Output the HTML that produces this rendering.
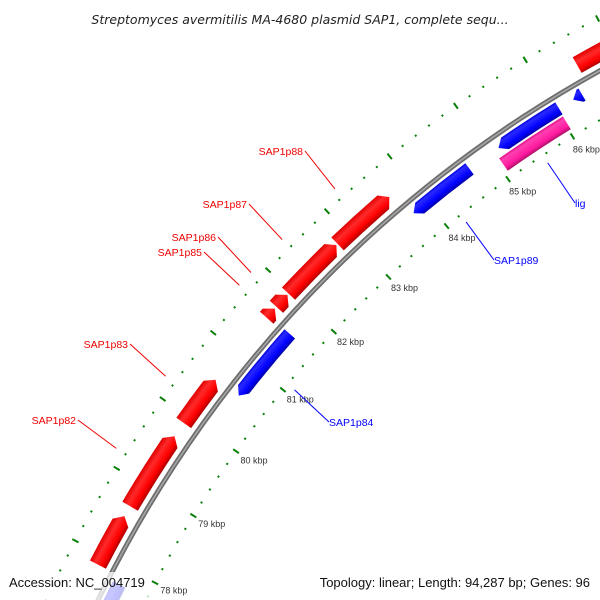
<!DOCTYPE html>
<html><head><meta charset="utf-8"><style>
html,body{margin:0;padding:0;background:#fff;width:600px;height:600px;overflow:hidden;}
svg{display:block;font-family:"Liberation Sans",sans-serif;overflow:hidden;}
</style></head><body>
<svg id="chart" width="600" height="600" viewBox="0 0 600 600" xmlns="http://www.w3.org/2000/svg">
<defs>
<radialGradient id="gRed" gradientUnits="userSpaceOnUse" cx="1181" cy="1124" r="1300">
<stop offset="0.9308" stop-color="#b00000"/><stop offset="0.9345" stop-color="#ff0000"/><stop offset="0.9400" stop-color="#ff2a2a"/><stop offset="0.9446" stop-color="#e00000"/></radialGradient>
<radialGradient id="gBlue" gradientUnits="userSpaceOnUse" cx="1181" cy="1124" r="1300">
<stop offset="0.9108" stop-color="#0000a8"/><stop offset="0.9140" stop-color="#0000ff"/><stop offset="0.9195" stop-color="#2a2aff"/><stop offset="0.9215" stop-color="#0000e0"/></radialGradient>
<radialGradient id="gPink" gradientUnits="userSpaceOnUse" cx="1181" cy="1124" r="1300">
<stop offset="0.8977" stop-color="#b0106a"/><stop offset="0.9010" stop-color="#ff1aa0"/><stop offset="0.9070" stop-color="#ff40b0"/><stop offset="0.9092" stop-color="#e0108a"/></radialGradient>
</defs>
<g id="ticks"></g>
<circle cx="1181" cy="1124" r="1203" fill="none" stroke="#6e6e6e" stroke-width="5"/>
<circle cx="1181" cy="1124" r="1203" fill="none" stroke="#a8a8a8" stroke-width="1.5"/>
<g id="genes"></g>
<g id="labels"></g>
<text x="300" y="24" text-anchor="middle" font-size="12.5" font-style="italic" fill="#222" style="font-family:'DejaVu Sans',sans-serif">Streptomyces avermitilis MA-4680 plasmid SAP1, complete sequ...</text>
<rect x="4" y="572" width="146" height="28" fill="#fff" opacity="0.75"/>
<text x="9" y="587" font-size="13" fill="#111">Accession: NC_004719</text>
<text x="590" y="587" text-anchor="end" font-size="13" fill="#111">Topology: linear; Length: 94,287 bp; Genes: 96</text>
</svg>
<script>
const seqLength = 94287;
const tickStartKbp = 76;
const tickEndKbp = 88;
const labeledKbp = [78, 79, 80, 81, 82, 83, 84, 85, 86];
const fwdStarts = [77.87, 78.69, 79.91, 81.56, 81.74, 81.96, 82.82, 86.51];
const fwdEnds   = [78.55, 79.71, 80.57, 81.71, 81.94, 82.80, 83.68, 87.60];
const fwdNames  = ['', 'SAP1p82', 'SAP1p83', 'SAP1p85', 'SAP1p86', 'SAP1p87', 'SAP1p88', ''];
const revStarts = [76.80, 80.59, 83.78, 85.13, 86.25];
const revEnds   = [77.77, 81.60, 84.68, 86.04, 86.38];
const revNames  = ['', 'SAP1p84', 'SAP1p89', '', ''];
const otherStarts = [85.06];
const otherEnds   = [86.03];
const otherNames  = ['lig'];

const NS = 'http://www.w3.org/2000/svg';
const CX = 1181, CY = 1124;
const labelLayout = {
  'SAP1p82': [76, 424, 'end'], 'SAP1p83': [128, 348, 'end'], 'SAP1p85': [202, 256, 'end'],
  'SAP1p86': [216, 241, 'end'], 'SAP1p87': [247, 208, 'end'], 'SAP1p88': [303, 155, 'end'],
  'SAP1p84': [329, 426, 'start'], 'SAP1p89': [494, 264, 'start'], 'lig': [575, 207, 'start']
};
function ang(k) { return k * 1000 / seqLength * 2 * Math.PI; }
function pt(k, r) { const a = ang(k); return [CX + r * Math.sin(a), CY - r * Math.cos(a)]; }
function P(p) { return p[0].toFixed(2) + ' ' + p[1].toFixed(2); }
function headK(r) { return (8 / r) / (2 * Math.PI) * seqLength / 1000; }

const tg = document.getElementById('ticks');
for (let i = Math.round(tickStartKbp * 5); i <= Math.round(tickEndKbp * 5); i++) {
  const k = i / 5;
  const major = (i % 5 === 0);
  [1160, 1250].forEach(r => {
    const h = major ? 3.5 : 1;
    const a = pt(k, r - h), b = pt(k, r + h);
    const ln = document.createElementNS(NS, 'line');
    
    
    ln.setAttribute('x1', a[0]); ln.setAttribute('y1', a[1]);
    ln.setAttribute('x2', b[0]); ln.setAttribute('y2', b[1]);
    ln.setAttribute('stroke', '#0a800a'); ln.setAttribute('stroke-width', '2');
    tg.appendChild(ln);
  });
}
labeledKbp.forEach(k => {
  const p = pt(k, 1146);
  const t = document.createElementNS(NS, 'text');
  
  
  t.setAttribute('x', p[0] - 7); t.setAttribute('y', p[1] + 4);
  t.setAttribute('font-size', '9'); t.setAttribute('fill', '#333');
  t.textContent = k + ' kbp';
  tg.appendChild(t);
});

const gg = document.getElementById('genes');
const lg = document.getElementById('labels');
function addGene(s, e, r1, r2, dir, fill, name, lineR, color) {
  const rm = (r1 + r2) / 2, hk = headK(rm);
  let d;
  if (dir > 0) {
    const be = Math.max(s, e - hk);
    d = 'M' + P(pt(s, r2)) + ' A' + r2 + ' ' + r2 + ' 0 0 1 ' + P(pt(be, r2)) + ' L' + P(pt(e, rm)) +
        ' L' + P(pt(be, r1)) + ' A' + r1 + ' ' + r1 + ' 0 0 0 ' + P(pt(s, r1)) + ' Z';
  } else if (dir < 0) {
    const bs = Math.min(e, s + hk);
    d = 'M' + P(pt(s, rm)) + ' L' + P(pt(bs, r2)) + ' A' + r2 + ' ' + r2 + ' 0 0 1 ' + P(pt(e, r2)) +
        ' L' + P(pt(e, r1)) + ' A' + r1 + ' ' + r1 + ' 0 0 0 ' + P(pt(bs, r1)) + ' Z';
  } else {
    d = 'M' + P(pt(s, r2)) + ' A' + r2 + ' ' + r2 + ' 0 0 1 ' + P(pt(e, r2)) +
        ' L' + P(pt(e, r1)) + ' A' + r1 + ' ' + r1 + ' 0 0 0 ' + P(pt(s, r1)) + ' Z';
  }
  const path = document.createElementNS(NS, 'path');
  
  
  path.setAttribute('d', d); path.setAttribute('fill', fill);
  gg.appendChild(path);
  if (name && labelLayout[name]) {
    const L = labelLayout[name];
    const m = pt((s + e) / 2, lineR);
    const ln = document.createElementNS(NS, 'line');
    
    
    ln.setAttribute('x1', m[0]); ln.setAttribute('y1', m[1]);
    ln.setAttribute('x2', L[2] === 'end' ? L[0] + 2 : L[0]); ln.setAttribute('y2', L[1] - 4);
    ln.setAttribute('stroke', color); ln.setAttribute('stroke-width', '1');
    lg.appendChild(ln);
    const t = document.createElementNS(NS, 'text');
    
    
    t.setAttribute('x', L[0]); t.setAttribute('y', L[1]);
    t.setAttribute('text-anchor', L[2]);
    t.setAttribute('font-size', '10.5'); t.setAttribute('fill', color);
    t.textContent = name;
    lg.appendChild(t);
  }
}
fwdStarts.forEach((s, i) => addGene(s, fwdEnds[i], 1210, 1228, 1, 'url(#gRed)', fwdNames[i], 1261, '#ee0000'));
revStarts.forEach((s, i) => addGene(s, revEnds[i], 1184, 1198, -1, 'url(#gBlue)', revNames[i], 1151, '#0000ff'));
otherStarts.forEach((s, i) => addGene(s, otherEnds[i], 1167, 1182, 0, 'url(#gPink)', otherNames[i], 1151, '#0000ff'));
</script>
</body></html>
